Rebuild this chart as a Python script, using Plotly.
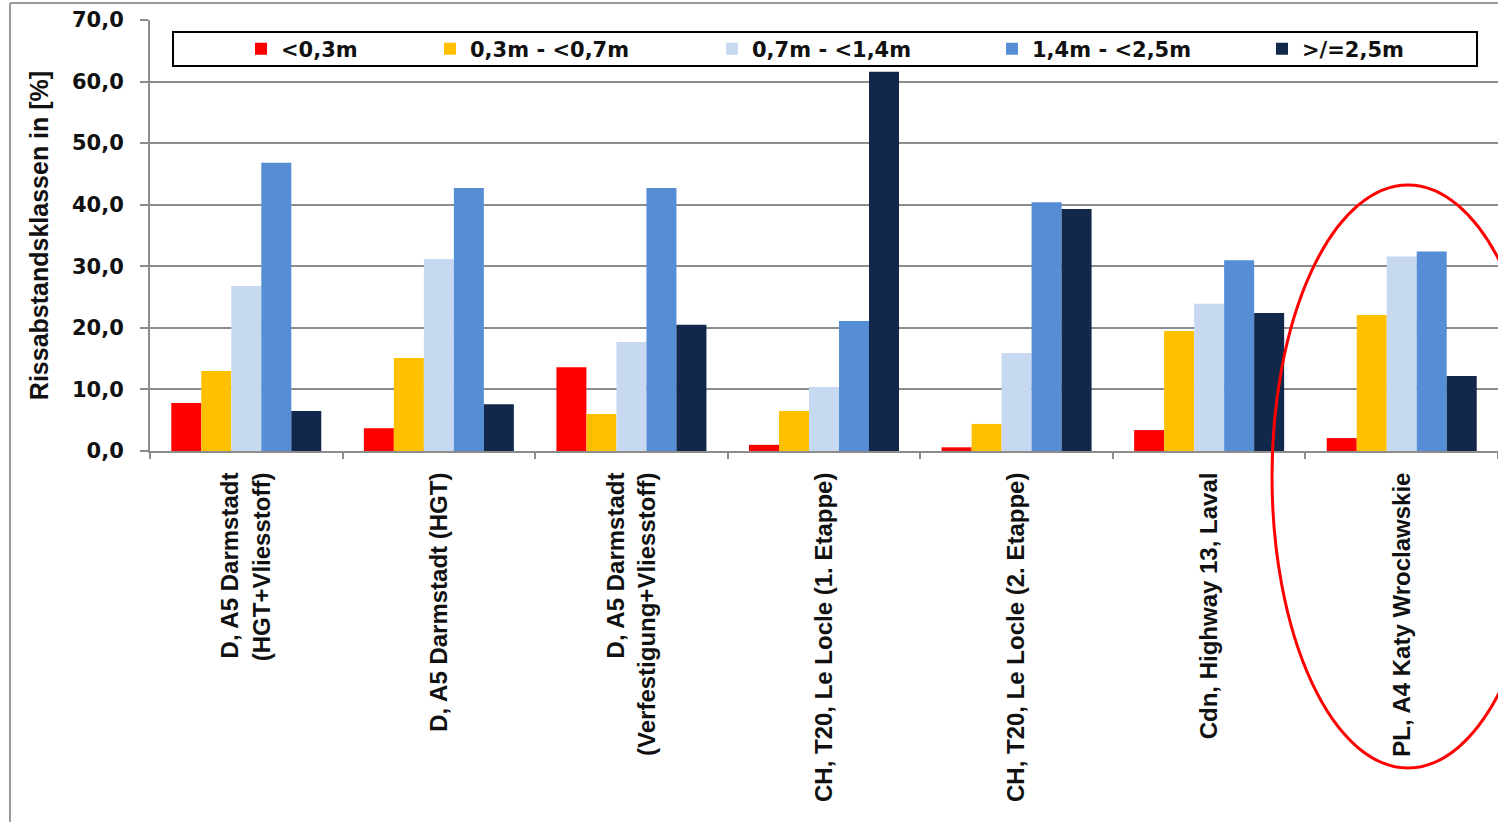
import plotly.graph_objects as go

# ---------------- data ----------------
categories = [
    "D, A5 Darmstadt<br>(HGT+Vliesstoff)",
    "D, A5 Darmstadt (HGT)",
    "D, A5 Darmstadt<br>(Verfestigung+Vliesstoff)",
    "CH, T20, Le Locle (1. Etappe)",
    "CH, T20, Le Locle (2. Etappe)",
    "Cdn, Highway 13, Laval",
    "PL, A4 Katy Wroclawskie",
]
series_names = ["<0,3m", "0,3m - <0,7m", "0,7m - <1,4m", "1,4m - <2,5m", ">/=2,5m"]
lt_0_3 = [7.8, 3.7, 13.6, 1.0, 0.6, 3.4, 2.1]
from_0_3_to_0_7 = [13.0, 15.1, 6.0, 6.5, 4.4, 19.5, 22.1]
from_0_7_to_1_4 = [26.8, 31.2, 17.7, 10.4, 15.9, 23.9, 31.6]
from_1_4_to_2_5 = [46.8, 42.7, 42.7, 21.1, 40.4, 31.0, 32.4]
ge_2_5 = [6.5, 7.6, 20.5, 61.6, 39.3, 22.4, 12.2]
y_title = "Rissabstandsklassen in [%]"
y_tick_values = [0, 10, 20, 30, 40, 50, 60, 70]

series_values = [lt_0_3, from_0_3_to_0_7, from_0_7_to_1_4, from_1_4_to_2_5, ge_2_5]
colors = ["#FF0000", "#FFC000", "#C6D9F1", "#558ED5", "#12284A"]

# ---------------- layout geometry ----------------
W, H = 1498, 822
L, R, T, B = 150, 0, 20, 371
PW = W - L - R
PH = H - T - B


def px2x(px):
    return (px - L) / PW


def py2y(py):
    return (H - B - py) / PH


legend_keys = ["legend", "legend2", "legend3", "legend4", "legend5"]
legend_left_px = [241, 430, 712, 992, 1262]

fig = go.Figure()
for name, vals, col, lk in zip(series_names, series_values, colors, legend_keys):
    fig.add_trace(go.Bar(
        x=categories, y=vals, name=name,
        marker=dict(color=col, line=dict(width=0)),
        legend=lk,
    ))

legend_font = dict(family="DejaVu Sans", size=21, color="#111111", weight="bold")
legend_layouts = {}
for lk, lx in zip(legend_keys, legend_left_px):
    legend_layouts[lk] = dict(
        x=px2x(lx), y=py2y(49), xanchor="left", yanchor="middle",
        orientation="h", bgcolor="rgba(0,0,0,0)", borderwidth=0,
        font=legend_font,
    )

grey = "#8C8C8C"
fig.update_layout(
    width=W, height=H,
    margin=dict(l=L, r=R, t=T, b=B, autoexpand=False),
    paper_bgcolor="white", plot_bgcolor="white",
    barmode="group", bargap=0.221, bargroupgap=0,
    separators=",.",
    showlegend=True,
    font=dict(family="Liberation Sans, Arial", color="#111111"),
    **legend_layouts,
)

fig.update_xaxes(
    type="category", range=[-0.5, 6.5],
    tickson="boundaries", ticks="outside", ticklen=6, tickwidth=1.5, tickcolor=grey,
    showline=True, linecolor=grey, linewidth=2,
    showgrid=False,
    tickangle=-90,
    tickfont=dict(family="Liberation Sans, Arial", size=24, color="#111111", weight="bold"),
    ticklabelstandoff=10,
)
fig.update_yaxes(
    range=[0, 70], tickvals=y_tick_values, tickformat=".1f",
    ticks="outside", ticklen=8, tickwidth=1.5, tickcolor=grey,
    showline=True, linecolor=grey, linewidth=2,
    showgrid=True, gridcolor=grey, gridwidth=2, zeroline=False,
    tickfont=dict(family="DejaVu Sans", size=21, color="#111111", weight="bold"),
    ticklabelstandoff=12,
    title=dict(text=y_title, standoff=16,
               font=dict(family="Liberation Sans, Arial", size=25, color="#111111", weight="bold")),
)

shapes = [
    # outer chart frame (left and top edges)
    dict(type="line", xref="paper", yref="paper", x0=px2x(10), x1=px2x(10), y0=py2y(3), y1=py2y(H + 5),
         line=dict(color="#9A9A9A", width=2), layer="below"),
    dict(type="line", xref="paper", yref="paper", x0=px2x(10), x1=px2x(W + 5), y0=py2y(3), y1=py2y(3),
         line=dict(color="#9A9A9A", width=2), layer="below"),
    # legend box
    dict(type="rect", xref="paper", yref="paper", x0=px2x(173), x1=px2x(1477), y0=py2y(66), y1=py2y(32),
         line=dict(color="black", width=2), fillcolor="white", layer="above"),
    # red ellipse highlight
    dict(type="circle", xref="paper", yref="paper", x0=px2x(1272), x1=px2x(1544), y0=py2y(768), y1=py2y(185),
         line=dict(color="#FF0000", width=3), layer="above"),
]
fig.update_layout(shapes=shapes)

fig.write_html("out.html")
